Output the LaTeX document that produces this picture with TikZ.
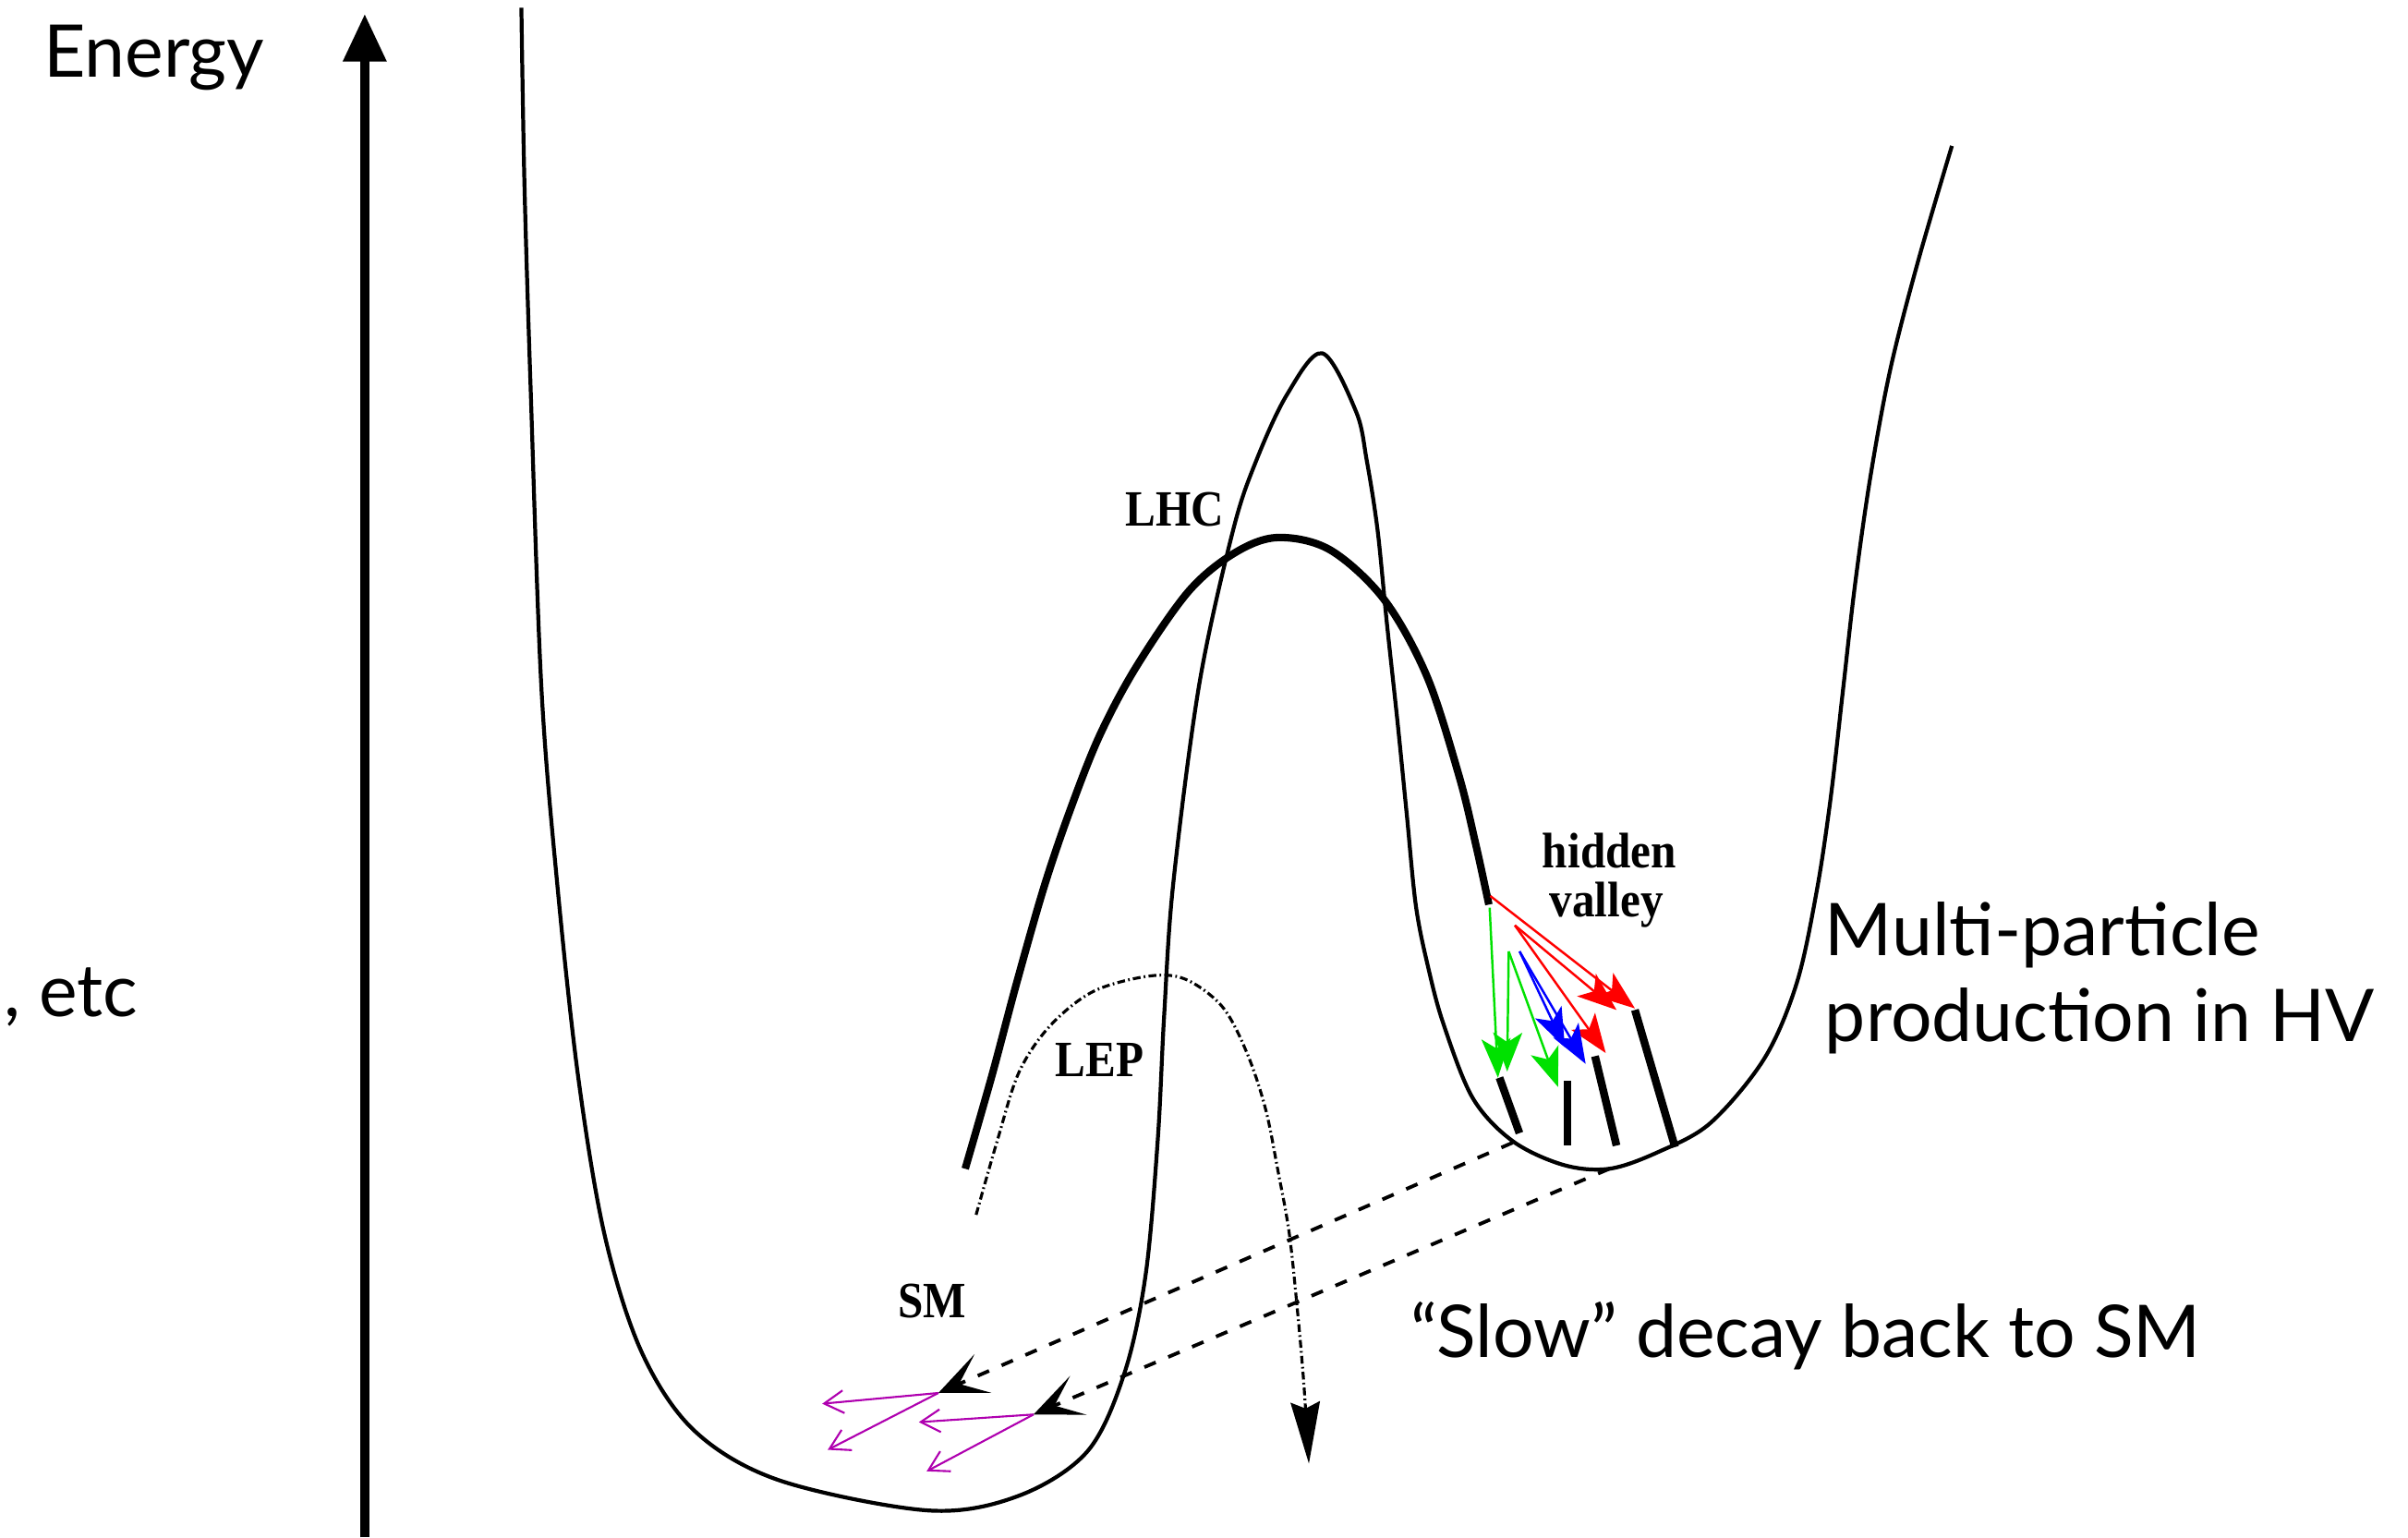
\documentclass[tikz,border=0pt]{standalone}
\usepackage{fontspec}
\usepackage{graphicx}
\setmainfont{Lato}
\newfontfamily\tagfont{Liberation Serif}
\usetikzlibrary{arrows.meta}

\definecolor{hvgreen}{RGB}{0,225,0}
\definecolor{hvblue}{RGB}{0,0,255}
\definecolor{hvred}{RGB}{255,0,0}
\definecolor{smmag}{RGB}{175,0,175}

\tikzset{
  slidetext/.style={font=\fontsize{22.4}{26}\selectfont, inner sep=0pt},
  figlabel/.style={font=\tagfont\bfseries\fontsize{14}{16}\selectfont, inner sep=0pt},
  energyaxis/.style={line width=3pt, -{Triangle[length=14.7pt,width=12.7pt]}},
  potential/.style={line width=1.2pt, line join=round},
  beamline/.style={line width=2.3pt},
  lepline/.style={line width=0.9pt, dash pattern=on 2.4pt off 1pt on 0.5pt off 1pt,
                  -{Stealth[length=19pt,width=9pt,inset=2pt]}},
  decayline/.style={line width=1.1pt, dash pattern=on 3.8pt off 4.2pt,
                    -{Stealth[length=15pt,width=13pt,inset=8pt]}},
  smarrow/.style={smmag, line width=0.6pt, -{Straight Barb[length=6pt,width=7pt]}},
  hvarrow/.style={line width=0.7pt, -{Stealth[length=12pt,width=9pt,inset=3pt]}},
  hvbar/.style={line width=2.4pt},
}

\begin{document}
\begin{tikzpicture}[x=0.016626cm, y=-0.016626cm]
\useasboundingbox (0,0) rectangle (1568,1001);

% energy axis
\coordinate (axisfoot) at (237.5,1001);
\coordinate (axistip) at (237.5,9);
\draw[energyaxis] (axisfoot) -- (axistip);
\node[slidetext, anchor=base west] (energy) at (28,50) {Energy};

% potential with the SM well, the barrier and the hidden valley
\draw[potential] plot[smooth, tension=0.55] coordinates {
  (339.5,5) (341.5,120) (345.6,255) (352.5,447) (362.8,575) (376.6,702)
  (393.9,805) (418.1,881) (452.6,932) (507.8,964) (604.5,983.5) (663.2,974)
  (708.1,945) (732.2,894) (746,830) (753.9,742) (758,662) (764,575) (781,445)
  (803,345) (818,300) (838,257) (861,230) (883,268) (890,300) (897,345)
  (903,405) (910,470) (916,530) (922,590) (930,630) (940,667) (959,715)
  (985,743) (1018,758.5) (1048,761) (1080,750) (1114,731) (1149,689)
  (1170,640) (1183,580) (1192,520) (1200,450) (1208,380) (1218,310)
  (1231,240) (1249,170) (1271,95)};

% LHC reach
\draw[beamline] plot[smooth, tension=0.55] coordinates {
  (628.5,761) (646,700) (662,640) (680,577) (697,527) (716,479) (740,434)
  (774,385) (804,360) (832,350) (866,358) (901,390) (929,440) (950,505)
  (961,550) (969.5,589)};

% LEP reach
\draw[lepline] plot[smooth, tension=0.55] coordinates {
  (635.6,791) (649.6,742) (663.6,698) (683.7,668) (711.8,645.6) (747.8,635.6)
  (771.9,637.6) (796,655.6) (812,685.7) (824,721.8) (832.1,762) (839.5,803)
  (845,855) (849,901) (852.3,953)};

% labels of the figure
\node[figlabel] (lhc) at (765,332) {\scalebox{1}[1.12]{LHC}};
\node[figlabel] (lep) at (716,690) {\scalebox{1}[1.12]{LEP}};
\node[figlabel] (sm) at (607,847) {\scalebox{1}[1.12]{SM}};
\node[figlabel] (hidden) at (1048,554) {\scalebox{1}[1.1]{hidden}};
\node[figlabel] (valley) at (1046,589) {\scalebox{1}[1.1]{valley}};

% particles produced in the hidden valley
\coordinate (barAtop) at (976.4,701.7);  \coordinate (barAbot) at (989.4,737.8);
\coordinate (barBtop) at (1020.5,703.7); \coordinate (barBbot) at (1020.5,745.9);
\coordinate (barCtop) at (1038.6,687.7); \coordinate (barCbot) at (1052.6,745.9);
\coordinate (barDtop) at (1064.6,657.6); \coordinate (barDbot) at (1090.7,746.9);
\draw[hvbar] (barAtop) -- (barAbot);
\draw[hvbar] (barBtop) -- (barBbot);
\draw[hvbar] (barCtop) -- (barCbot);
\draw[hvbar] (barDtop) -- (barDbot);

\coordinate (redA) at (970.4,583.4);
\coordinate (redB) at (986.4,602.5);
\coordinate (greenA) at (970,591);
\coordinate (greenB) at (982.4,619.5);
\coordinate (blueA) at (989.5,619.5);
\coordinate (gA) at (975.4,701.7);
\coordinate (gB) at (981.4,697.7);
\coordinate (gC) at (1014.5,707.7);
\coordinate (bA) at (1032.5,692.7);
\coordinate (bB) at (1019,682);
\coordinate (rA) at (1064.6,656.6);
\coordinate (rB) at (1052.6,657.6);
\coordinate (rC) at (1045.6,685.7);
\draw[hvarrow, hvred] (redA) -- (rA);
\draw[hvarrow, hvred] (redB) -- (rB);
\draw[hvarrow, hvred] (redB) -- (rC);
\draw[hvarrow, hvblue] (blueA) -- (bA);
\draw[hvarrow, hvblue] (blueA) -- (bB);
\draw[hvarrow, hvgreen] (greenA) -- (gA);
\draw[hvarrow, hvgreen] (greenB) -- (gB);
\draw[hvarrow, hvgreen] (greenB) -- (gC);

% slow decays back to the SM well
\coordinate (hvA) at (985,744);
\coordinate (smA) at (611,907);
\coordinate (hvB) at (1048,761);
\coordinate (smB) at (673,921);
\draw[decayline] (hvA) -- (smA);
\draw[decayline] (hvB) -- (smB);

\coordinate (smA1) at (535.4,914);
\coordinate (smA2) at (539,944);
\coordinate (smB1) at (598.3,926);
\coordinate (smB2) at (603.4,958);
\draw[smarrow] (smA) -- (smA1);
\draw[smarrow] (smA) -- (smA2);
\draw[smarrow] (smB) -- (smB1);
\draw[smarrow] (smB) -- (smB2);

% slide annotations
\node[slidetext, anchor=base east] (etc) at (90,662) {, etc};
\node[slidetext, anchor=base west] (multi) at (1188,622) {Multi-particle};
\node[slidetext, anchor=base west] (prod) at (1188,678) {production in HV};
\node[slidetext, anchor=base west] (slow) at (918,884) {“Slow” decay back to SM};
\end{tikzpicture}
\end{document}
